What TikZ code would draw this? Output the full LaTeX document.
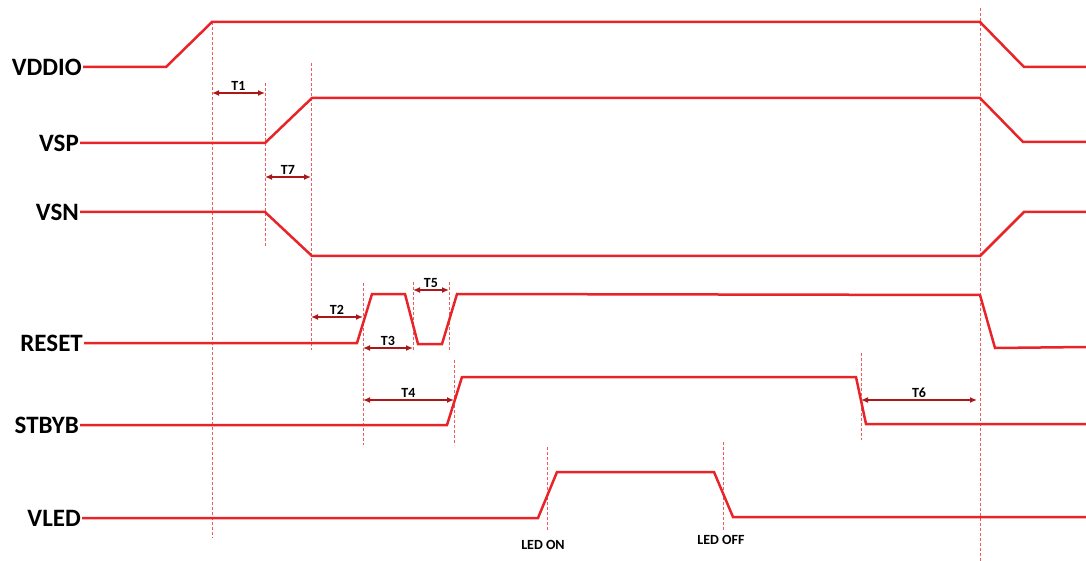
\documentclass[tikz,border=0pt]{standalone}
\usepackage{fontspec}
\setmainfont{Carlito}
\usetikzlibrary{arrows.meta}

\definecolor{sigred}{RGB}{232,36,40}
\definecolor{spanred}{RGB}{170,24,24}

\begin{document}
\begin{tikzpicture}[
  x=1pt, y=-1pt,
  sig/.style={draw=sigred, line width=2.5pt, line join=miter},
  guide/.style={draw=sigred!75, densely dashed, line width=0.6pt},
  span/.style={{Latex[length=7pt,width=6pt]}-{Latex[length=7pt,width=6pt]}, draw=spanred, line width=1.8pt},
  signame/.style={anchor=east, font=\fontsize{25}{28}\selectfont\bfseries, inner sep=1pt},
  tag/.style={font=\fontsize{14}{16}\selectfont\bfseries, inner sep=1.5pt}
]
\useasboundingbox (0,0) rectangle (1086,561);

% guide lines
\draw[guide] (212,22) -- (212,538);
\draw[guide] (265,83) -- (265,247);
\draw[guide] (311,63) -- (311,350);
\draw[guide] (363,283) -- (363,445);
\draw[guide] (413,282) -- (413,352);
\draw[guide] (449,282) -- (449,352);
\draw[guide] (454,360) -- (454,445);
\draw[guide] (547,447) -- (547,530);
\draw[guide] (723,442) -- (723,530);
\draw[guide] (861,353) -- (861,440);
\draw[guide] (980,8) -- (980,561);

% signals
\node[signame] (vddio) at (83,67) {VDDIO};
\node[signame] (vsp) at (80,143) {VSP};
\node[signame] (vsn) at (80,212) {VSN};
\node[signame] (reset) at (84,343) {RESET};
\node[signame] (stbyb) at (80,425) {STBYB};
\node[signame] (vled) at (82,518) {VLED};

\draw[sig] (vddio.east) -- (166,67) -- (212,22) -- (980,22) -- (1024,67) -- (1086,67);
\draw[sig] (vsp.east) -- (265,143) -- (312,98) -- (980,98) -- (1023,142) -- (1086,142);
\draw[sig] (vsn.east) -- (265,212) -- (312,256) -- (980,256) -- (1024,212) -- (1086,212);
\draw[sig] (reset.east) -- (357,343) -- (372,294) -- (405,294) -- (418,344)
  -- (442,344) -- (457,294) -- (980,295) -- (995,348) -- (1086,347);
\draw[sig] (stbyb.east) -- (447,425) -- (462,377) -- (856,377) -- (866,424) -- (1086,424);
\draw[sig] (vled.east) -- (538,518) -- (557,472) -- (714,472) -- (733,517) -- (1086,517);

% timings
\draw[span] (212,93) -- node[tag, above] {T1} (265,93);
\draw[span] (265,177) -- node[tag, above] {T7} (311,177);
\draw[span] (311,317) -- node[tag, above] {T2} (363,317);
\draw[span] (363,348) -- node[tag, above] {T3} (413,348);
\draw[span] (413,290) -- node[tag, above] {T5} (449,290);
\draw[span] (363,400) -- node[tag, above] {T4} (454,400);
\draw[span] (861,400) -- node[tag, above] {T6} (977,400);

\node[tag] (ledon) at (543,545) {LED ON};
\node[tag] (ledoff) at (721,540) {LED OFF};
\end{tikzpicture}
\end{document}
